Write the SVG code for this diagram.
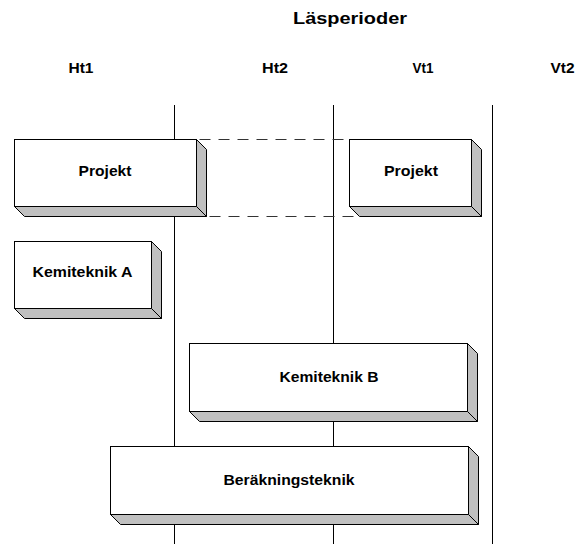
<svg xmlns="http://www.w3.org/2000/svg" width="581" height="544" viewBox="0 0 581 544">
<style>
  text { font-family: "Liberation Sans", Arial, sans-serif; font-weight: bold; fill: #000; text-anchor: middle; }
  .hdr { font-size: 14px; }
  .title { font-size: 17px; }
  .lbl { font-size: 14px; }
  .front { fill: #fff; stroke: #000; stroke-width: 1; }
  .side { fill: #c0c0c0; stroke: #000; stroke-width: 1; stroke-linejoin: miter; }
  .period { stroke: #000; stroke-width: 1; fill: none; }
  .dash { stroke: #333; stroke-width: 1; fill: none; stroke-dasharray: 11 8; }
</style>
<rect width="581" height="544" fill="#fff"/>
<g id="header">
  <text class="title" x="350" y="24" textLength="114" lengthAdjust="spacingAndGlyphs">Läsperioder</text>
  <text class="hdr" x="81" y="73" textLength="25" lengthAdjust="spacingAndGlyphs">Ht1</text>
  <text class="hdr" x="275" y="73" textLength="26" lengthAdjust="spacingAndGlyphs">Ht2</text>
  <text class="hdr" x="423" y="73" textLength="21" lengthAdjust="spacingAndGlyphs">Vt1</text>
  <text class="hdr" x="562.5" y="73" textLength="24" lengthAdjust="spacingAndGlyphs">Vt2</text>
</g>
<g id="connectors">
  <line class="period" x1="174.5" y1="105" x2="174.5" y2="544"/>
  <line class="period" x1="333.5" y1="105" x2="333.5" y2="544"/>
  <line class="period" x1="492.5" y1="105" x2="492.5" y2="544"/>
  <line class="dash" x1="196.5" y1="139.5" x2="349.5" y2="139.5" stroke-dashoffset="-3"/>
  <line class="dash" x1="206.5" y1="216.5" x2="359.5" y2="216.5" stroke-dashoffset="-3"/>
</g>
<g id="projekt1">
  <rect class="front" x="14.5" y="139.5" width="182" height="67"/>
  <polygon class="side" points="196.5,139.5 206.5,149.5 206.5,216.5 196.5,206.5"/>
  <polygon class="side" points="14.5,206.5 196.5,206.5 206.5,216.5 24.5,216.5"/>
  <text class="lbl" x="105" y="176" textLength="53" lengthAdjust="spacingAndGlyphs">Projekt</text>
</g>
<g id="projekt2">
  <rect class="front" x="349.5" y="139.5" width="122" height="67"/>
  <polygon class="side" points="471.5,139.5 481.5,149.5 481.5,216.5 471.5,206.5"/>
  <polygon class="side" points="349.5,206.5 471.5,206.5 481.5,216.5 359.5,216.5"/>
  <text class="lbl" x="411" y="176" textLength="54" lengthAdjust="spacingAndGlyphs">Projekt</text>
</g>
<g id="kemiteknikA">
  <rect class="front" x="14.5" y="241.5" width="137" height="67"/>
  <polygon class="side" points="151.5,241.5 161.5,251.5 161.5,318.5 151.5,308.5"/>
  <polygon class="side" points="14.5,308.5 151.5,308.5 161.5,318.5 24.5,318.5"/>
  <text class="lbl" x="82.5" y="277" textLength="100" lengthAdjust="spacingAndGlyphs">Kemiteknik A</text>
</g>
<g id="kemiteknikB">
  <rect class="front" x="189.5" y="343.5" width="278" height="68"/>
  <polygon class="side" points="467.5,343.5 477.5,353.5 477.5,421.5 467.5,411.5"/>
  <polygon class="side" points="189.5,411.5 467.5,411.5 477.5,421.5 199.5,421.5"/>
  <text class="lbl" x="329" y="382" textLength="99" lengthAdjust="spacingAndGlyphs">Kemiteknik B</text>
</g>
<g id="berakningsteknik">
  <rect class="front" x="110.5" y="446.5" width="358" height="68"/>
  <polygon class="side" points="468.5,446.5 478.5,456.5 478.5,524.5 468.5,514.5"/>
  <polygon class="side" points="110.5,514.5 468.5,514.5 478.5,524.5 120.5,524.5"/>
  <text class="lbl" x="289" y="485" textLength="131" lengthAdjust="spacingAndGlyphs">Beräkningsteknik</text>
</g>
</svg>
